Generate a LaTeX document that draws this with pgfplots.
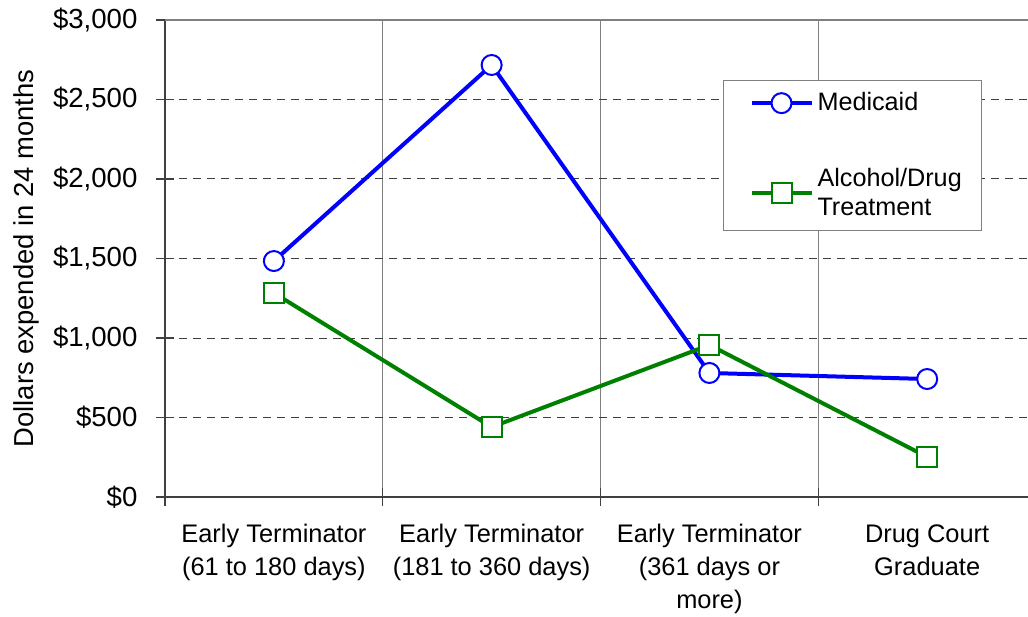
\documentclass[border=0pt]{standalone}
\usepackage{fontspec}
\setmainfont{Liberation Sans}
\usepackage{pgfplots}
\pgfplotsset{compat=1.18}

\definecolor{medblue}{RGB}{0,0,255}
\definecolor{trtgreen}{RGB}{0,128,0}
\definecolor{gridgray}{RGB}{128,128,128}
\definecolor{axisdark}{RGB}{64,64,64}

\begin{document}
\begin{tikzpicture}
\useasboundingbox (-82.5pt,-59.5pt) rectangle (431.5pt,248.5pt);
\begin{axis}[
    scale only axis,
    width=431.5pt, height=238.5pt,
    xmin=-0.5, xmax=3.463,
    ymin=0, ymax=3000,
    axis x line*=bottom,
    axis y line*=left,
    axis line style={axisdark, line width=1pt, -},
    xtick={0,1,2,3},
    xticklabels={{Early Terminator\\(61 to 180 days)},{Early Terminator\\(181 to 360 days)},{Early Terminator\\(361 days or\\more)},{Drug Court\\Graduate}},
    major x tick style={draw=none},
    minor xtick={-0.5,0.5,1.5,2.5},
    minor x tick style={axisdark, line width=0.6pt},
    minor tick length=9pt,
    minor x grid style={gridgray, line width=0.5pt, solid},
    xminorgrids=true,
    ytick={0,500,1000,1500,2000,2500,3000},
    yticklabels={{\$0},{\$500},{\$1,000},{\$1,500},{\$2,000},{\$2,500},{\$3,000}},
    ymajorgrids=true,
    y grid style={axisdark, line width=0.5pt, dash pattern=on 4pt off 3pt},
    major y tick style={axisdark, line width=0.6pt},
    major tick length=8.5pt,
    tick align=center,
    /pgf/number format/assume math mode=true,
    yticklabel style={font=\fontsize{13.8}{16}\selectfont, xshift=-6pt},
    xticklabel style={font=\fontsize{12.7}{16.5}\selectfont, align=center, anchor=north, yshift=-6pt},
    ylabel={Dollars expended in 24 months},
    ylabel style={font=\fontsize{13.7}{16}\selectfont, at={(axis description cs:-0.16,0.5)}, anchor=center},
    legend style={at={(rel axis cs:0.6466,0.8742)}, anchor=north west,
        draw=gridgray, line width=0.5pt, font=\fontsize{12.6}{14.5}\selectfont,
        nodes={align=left}, row sep=23pt, inner xsep=8pt, inner ysep=4pt},
    legend cell align=left,
    legend image code/.code={\path (0pt,0pt); \draw[mark repeat=2,mark phase=2,#1] plot coordinates {(5pt,0pt) (20pt,0pt) (35pt,0pt)};},
    clip=false,
    after end axis/.code={\draw[gridgray, line width=1pt] (rel axis cs:0,1) -- (rel axis cs:1.02,1);},
]
\addplot[medblue, line width=2pt, mark=*, mark size=5pt, mark options={line width=1pt, fill=white, draw=medblue, solid}]
    coordinates {(0,1484) (1,2717) (2,780) (3,742)};
\addlegendentry{Medicaid}
\addplot[trtgreen, line width=2pt, mark=square*, mark size=5pt, mark options={line width=1pt, fill=white, draw=trtgreen, solid}]
    coordinates {(0,1283) (1,440) (2,956) (3,252)};
\addlegendentry{Alcohol/Drug\\Treatment}
\end{axis}
\end{tikzpicture}
\end{document}
